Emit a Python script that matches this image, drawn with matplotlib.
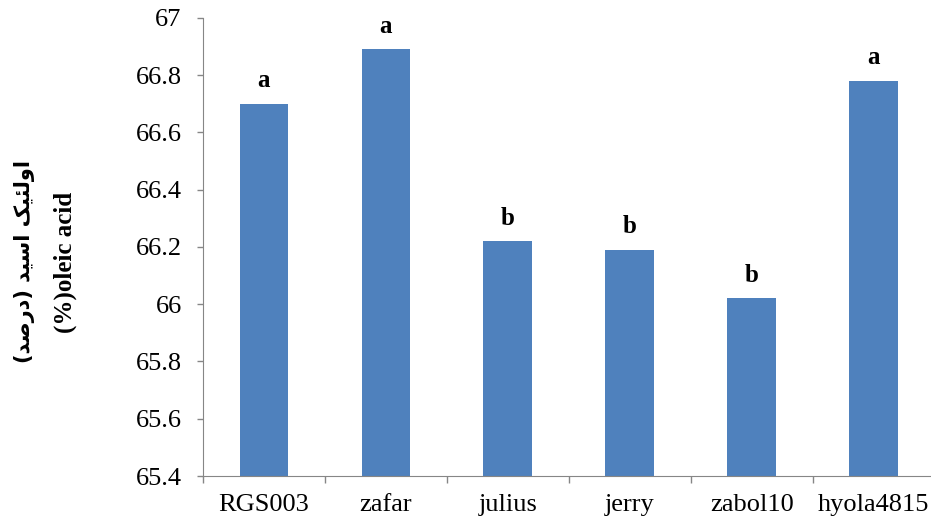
import numpy as np
import matplotlib.pyplot as plt

# داده‌ها
cultivars = ['RGS003', 'zafar', 'julius', 'jerry', 'zabol10', 'hyola4815']
oleic = [66.70, 66.89, 66.22, 66.19, 66.02, 66.78]
groups = ['a', 'a', 'b', 'b', 'b', 'a']
yticks = [65.4, 65.6, 65.8, 66, 66.2, 66.4, 66.6, 66.8, 67]
ylabel_fa = 'اولئیک اسید (درصد)'
ylabel_en = '(%)oleic acid'

# matplotlib does no Arabic shaping, so pick presentation forms by hand
# (isolated, final, initial, medial)
forms = {
    'ا': ('\uFE8D', '\uFE8E'), 'و': ('\uFEED', '\uFEEE'),
    'د': ('\uFEA9', '\uFEAA'), 'ر': ('\uFEAD', '\uFEAE'),
    'ل': ('\uFEDD', '\uFEDE', '\uFEDF', '\uFEE0'),
    'ئ': ('\uFE89', '\uFE8A', '\uFE8B', '\uFE8C'),
    'ی': ('\uFBFC', '\uFBFD', '\uFBFE', '\uFBFF'),
    'ک': ('\uFB8E', '\uFB8F', '\uFB90', '\uFB91'),
    'س': ('\uFEB1', '\uFEB2', '\uFEB3', '\uFEB4'),
    'ص': ('\uFEB9', '\uFEBA', '\uFEBB', '\uFEBC'),
}


def shape(s):
    out = []
    for i, c in enumerate(s):
        if c not in forms:
            out.append({'(': ')', ')': '('}.get(c, c))
            continue
        p = s[i - 1] if i > 0 else ''
        n = s[i + 1] if i + 1 < len(s) else ''
        join_prev = p in forms and len(forms[p]) == 4
        join_next = n in forms and len(forms[c]) == 4
        f = forms[c]
        if join_prev and join_next:
            g = f[3]
        elif join_prev:
            g = f[1]
        elif join_next:
            g = f[2]
        else:
            g = f[0]
        out.append(g)
    return ''.join(out[::-1])


plt.rcParams['font.family'] = ['Liberation Serif', 'DejaVu Sans']
fig = plt.figure(figsize=(9.31, 5.26), dpi=100)
ax = fig.add_axes([0.218, 0.095, 0.786, 0.871])

x = np.arange(len(cultivars))
ax.bar(x, np.array(oleic) - 65.4, bottom=65.4, width=0.4, color='#4F81BD', zorder=2)

for xi, v, g in zip(x, oleic, groups):
    ax.annotate(g, (xi, v), xytext=(0, 12), textcoords='offset points',
                ha='center', va='baseline', fontsize=18, fontweight='bold')

ax.set_ylim(65.4, 67)
ax.set_xlim(-0.5, 5.5)
ax.set_yticks(yticks)
ax.set_yticklabels([f'{t:g}' for t in yticks], fontsize=19)
ax.set_xticks(np.arange(-0.5, 6, 1))
ax.set_xticklabels([])
ax.set_xticks(x, minor=True)
ax.set_xticklabels(cultivars, minor=True, fontsize=19)
ax.tick_params(axis='x', which='minor', length=0, pad=13)
ax.tick_params(axis='x', which='major', length=5, color='#868686', width=1)
ax.tick_params(axis='y', length=4.3, color='#868686', width=1, pad=11)

for s in ['top', 'right']:
    ax.spines[s].set_visible(False)
for s in ['left', 'bottom']:
    ax.spines[s].set_color('#868686')

fig.text(25 / 931, 1 - 262 / 526, shape(ylabel_fa), rotation=90, ha='center', va='center',
         fontsize=15, fontweight='bold', family=['DejaVu Sans'])
fig.text(65 / 931, 1 - 262 / 526, ylabel_en, rotation=90, ha='center', va='center',
         fontsize=18, fontweight='bold')

plt.savefig('out.png', dpi=100)
